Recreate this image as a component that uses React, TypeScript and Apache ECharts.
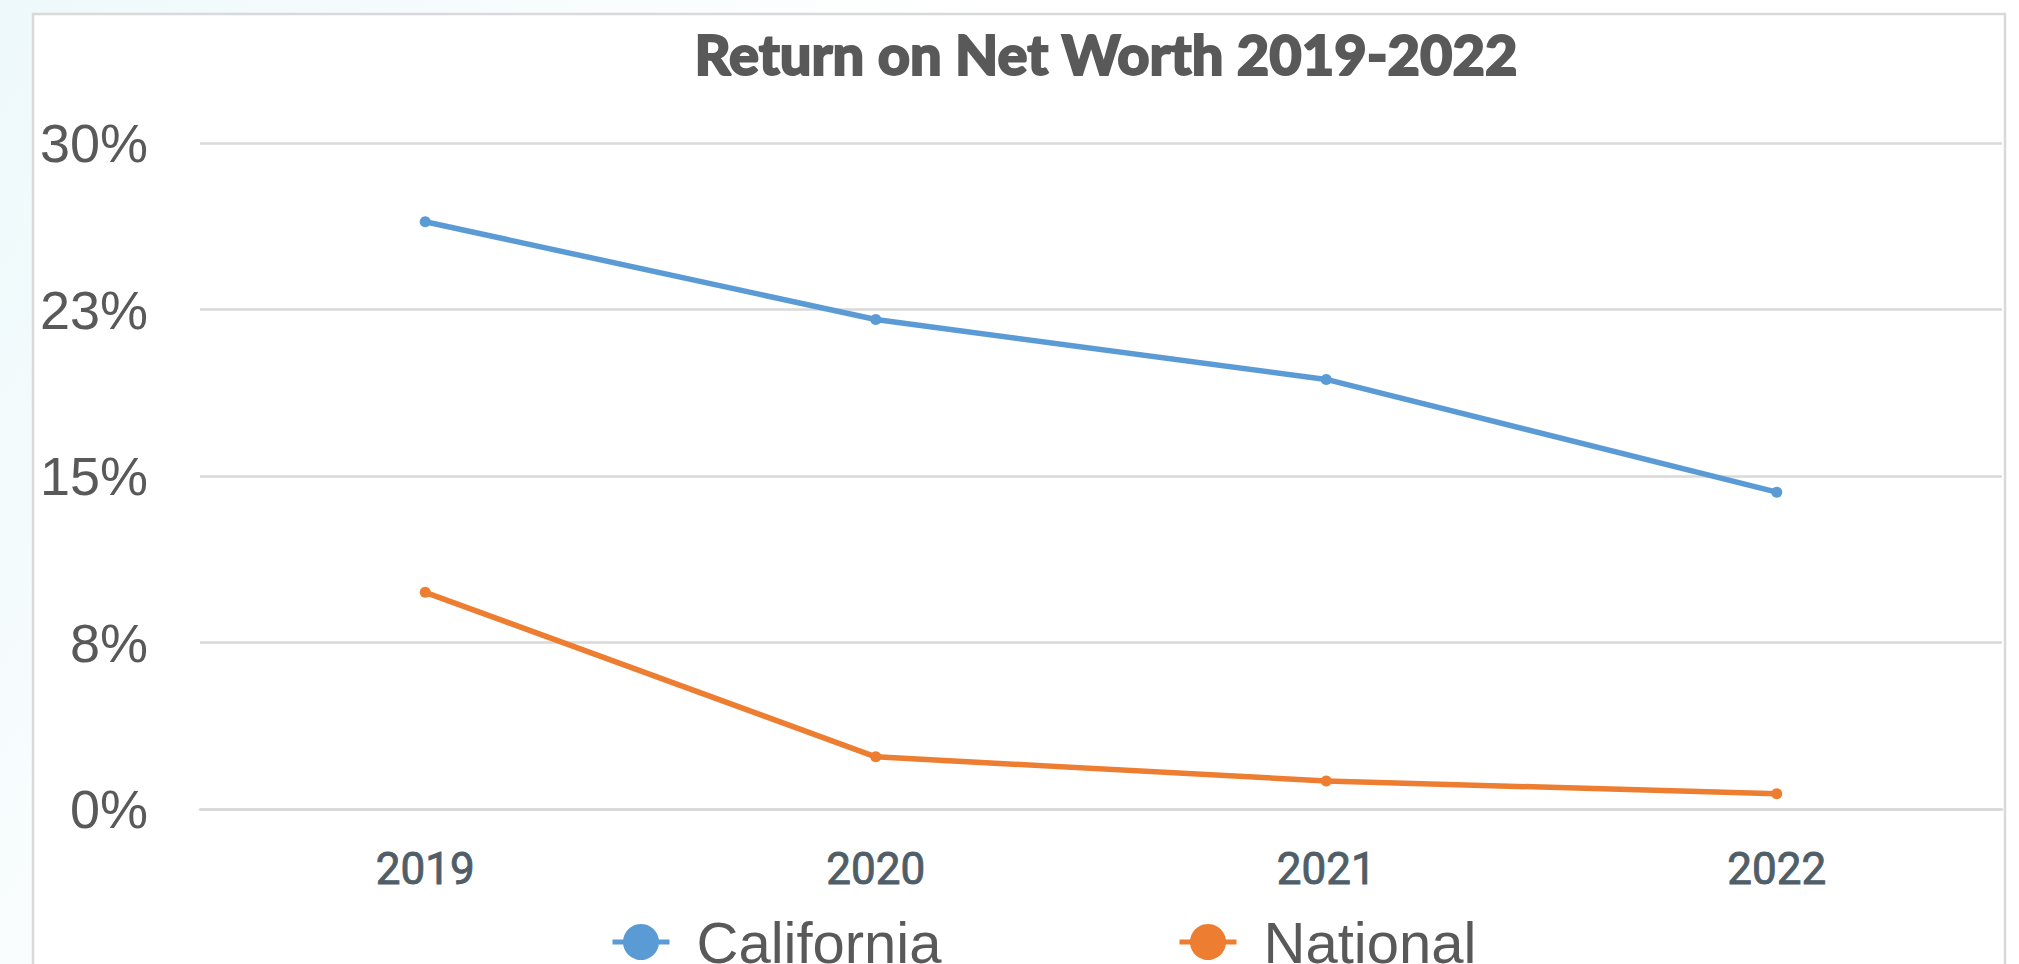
import React, { useEffect, useRef } from "react";
import * as echarts from "echarts";

const categories = ["2019", "2020", "2021", "2022"];
const californiaValues = [26.45, 22.05, 19.35, 14.27];
const nationalValues = [9.76, 2.35, 1.26, 0.69];
const seriesNames = ["California", "National"];
const titleText = "Return on Net Worth 2019-2022";

export default function App() {
  const ref = useRef<HTMLDivElement>(null);

  useEffect(() => {
    if (!ref.current) return;
    const chart = echarts.init(ref.current, undefined, { renderer: "svg" });
    const legendText = {
      fontFamily: "Liberation Sans",
      fontSize: 58,
      color: "#595959",
      padding: [0, 0, 0, 22],
    };
    chart.setOption({
      animation: false,
      backgroundColor: {
        type: "linear",
        x: 0,
        y: 0,
        x2: 1,
        y2: 0.3,
        colorStops: [
          { offset: 0, color: "#eef9fb" },
          { offset: 0.45, color: "#ffffff" },
          { offset: 1, color: "#ffffff" },
        ],
      },
      graphic: [
        {
          type: "rect",
          z: -10,
          silent: true,
          shape: { x: 33, y: 14, width: 1972, height: 1000 },
          style: { fill: "#ffffff", stroke: "#d9d9d9", lineWidth: 2.5 },
        },
      ],
      title: {
        text: titleText,
        left: 1101,
        top: 20,
        textAlign: "center",
        textStyle: {
          fontFamily: "Lato",
          fontWeight: 900,
          fontSize: 56,
          color: "#595959",
          textBorderColor: "#595959",
          textBorderWidth: 1.8,
        },
      },
      legend: [
        {
          data: [seriesNames[0]],
          left: 605,
          top: 908,
          itemWidth: 57,
          itemHeight: 45,
          lineStyle: { width: 5 },
          textStyle: legendText,
        },
        {
          data: [seriesNames[1]],
          left: 1172,
          top: 908,
          itemWidth: 57,
          itemHeight: 45,
          lineStyle: { width: 5 },
          textStyle: legendText,
        },
      ],
      grid: { left: 200, right: 17, top: 143, bottom: 155, containLabel: false },
      xAxis: {
        type: "category",
        data: categories,
        boundaryGap: true,
        axisLine: { show: true, lineStyle: { color: "#d9d9d9", width: 2.5 } },
        axisTick: { show: false },
        axisLabel: {
          margin: 38,
          fontFamily: "Roboto",
          fontWeight: 400,
          fontSize: 44,
          color: "#4f5e68",
          textBorderColor: "#4f5e68",
          textBorderWidth: 0.9,
        },
      },
      yAxis: {
        type: "value",
        min: 0,
        max: 30,
        interval: 7.5,
        axisLine: { show: false },
        axisTick: { show: false },
        splitLine: { lineStyle: { color: "#d9d9d9", width: 2.5 } },
        axisLabel: {
          margin: 52,
          fontFamily: "Liberation Sans",
          fontSize: 54,
          color: "#595959",
          formatter: (v: number) => Math.round(v) + "%",
        },
      },
      series: [
        {
          name: seriesNames[0],
          type: "line",
          data: californiaValues,
          symbol: "circle",
          symbolSize: 11,
          lineStyle: { color: "#5b9bd5", width: 5.5 },
          itemStyle: { color: "#5b9bd5" },
        },
        {
          name: seriesNames[1],
          type: "line",
          data: nationalValues,
          symbol: "circle",
          symbolSize: 11,
          lineStyle: { color: "#ed7d31", width: 5.5 },
          itemStyle: { color: "#ed7d31" },
        },
      ],
    });
    return () => chart.dispose();
  }, []);

  return (
    <div
      ref={ref}
      style={{ position: "fixed", left: 0, top: 0, width: 2019, height: 964 }}
    />
  );
}
